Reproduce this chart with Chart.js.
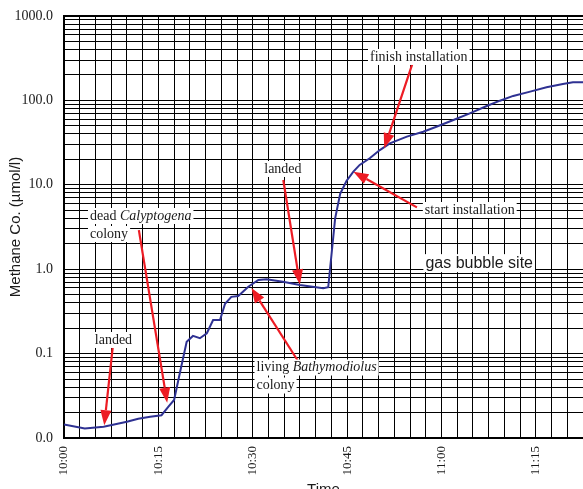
<!DOCTYPE html>
<html>
<head>
<meta charset="utf-8">
<script src="https://cdn.jsdelivr.net/npm/chart.js@4/dist/chart.umd.min.js"></script>
<style>
  html, body { margin: 0; padding: 0; background: #fff; overflow: hidden; }
</style>
</head>
<body>
<canvas id="chart" width="583" height="489"></canvas>
<script>
// Methane concentration (µmol/l) against minutes after 10:00
const minutesAfter10 = [0, 3.3, 6.3, 10.0, 11.8, 13.7, 15.5, 16.6, 17.5, 18.4, 19.5, 20.5, 21.6, 22.7,
  23.7, 24.8, 25.6, 26.6, 27.7, 29.3, 30.9, 32.2, 34.8, 37.5, 41.2, 42.0, 43.1, 43.9, 44.9, 46.0,
  47.0, 48.6, 50.2, 51.8, 54.5, 57.1, 59.2, 61.9, 64.5, 67.2, 69.3, 71.4, 74.1, 76.7, 79.3, 80.9, 82.5];
const methane = [0.0145, 0.0130, 0.0136, 0.0156, 0.0169, 0.0179, 0.0186, 0.0235, 0.0282, 0.058, 0.138, 0.162, 0.152, 0.174,
  0.25, 0.25, 0.39, 0.47, 0.48, 0.62, 0.745, 0.76, 0.71, 0.65, 0.594, 0.611, 4.0, 7.8, 11.1, 14.3,
  17.2, 20.6, 25.8, 31.0, 37.2, 42.6, 48.8, 58.6, 70.3, 85.9, 99.2, 113, 127, 143, 156, 164, 164];

// Axis labels
const timeLabels = ['10:00', '10:15', '10:30', '10:45', '11:00', '11:15'];
const decades = [0.01, 0.1, 1, 10, 100, 1000];
const decadeLabels = ['0.0', '0.1', '1.0', '10.0', '100.0', '1000.0'];

// Event callouts: text lines (segments), anchor, arrow tail and arrow tip in data units
const notes = [
  { lines: [[{ t: 'landed' }]], at: [7.86, 0.145], align: 'center', tail: [7.74, 0.118], tip: [6.4, 0.0142] },
  { lines: [[{ t: 'dead ' }, { t: 'Calyptogena', i: true }], [{ t: 'colony' }]], at: [4.13, 4.27], align: 'left',
    tail: [11.9, 2.9], tip: [16.4, 0.0262] },
  { lines: [[{ t: 'living ' }, { t: 'Bathymodiolus', i: true }], [{ t: 'colony' }]], at: [30.6, 0.0684], align: 'left',
    tail: [37.2, 0.0817], tip: [29.8, 0.60] },
  { lines: [[{ t: 'landed' }]], at: [34.8, 15.4], align: 'center', tail: [34.86, 11.4], tip: [37.5, 0.66] },
  { lines: [[{ t: 'finish installation' }]], at: [56.4, 327], align: 'center', tail: [55.4, 274], tip: [50.9, 27.1] },
  { lines: [[{ t: 'start installation' }]], at: [64.5, 5.03], align: 'center', tail: [56.1, 5.4], tip: [46.0, 14.3] },
  { lines: [[{ t: 'gas bubble site' }]], at: [66.0, 1.18], align: 'center', sans: true }
];

const SERIF = '"Liberation Serif", "Times New Roman", serif';
const SANS = '"Liberation Sans", Arial, sans-serif';

function drawArrow(ctx, x0, y0, x1, y1) {
  const ang = Math.atan2(y1 - y0, x1 - x0);
  const len = 15, half = 5.5;
  const bx = x1 - len * Math.cos(ang), by = y1 - len * Math.sin(ang);
  ctx.strokeStyle = '#ed1c24';
  ctx.fillStyle = '#ed1c24';
  ctx.lineWidth = 2.2;
  ctx.beginPath();
  ctx.moveTo(x0, y0);
  ctx.lineTo(bx, by);
  ctx.stroke();
  ctx.beginPath();
  ctx.moveTo(x1, y1);
  ctx.lineTo(bx + half * Math.sin(ang), by - half * Math.cos(ang));
  ctx.lineTo(bx - half * Math.sin(ang), by + half * Math.cos(ang));
  ctx.closePath();
  ctx.fill();
}

function drawNote(ctx, n, px, py) {
  const size = n.sans ? 16 : 14;
  const family = n.sans ? SANS : SERIF;
  const gap = 18;
  n.lines.forEach((segs, li) => {
    const cy = py + li * gap;
    let w = 0;
    const widths = segs.map(s => {
      ctx.font = (s.i ? 'italic ' : '') + size + 'px ' + family;
      const m = ctx.measureText(s.t).width;
      w += m;
      return m;
    });
    let x = n.align === 'center' ? px - w / 2 : px;
    ctx.fillStyle = '#ffffff';
    ctx.fillRect(x - 2, cy - size / 2 - 1, w + 4, size + 2);
    ctx.fillStyle = '#1a1a1a';
    ctx.textBaseline = 'middle';
    ctx.textAlign = 'left';
    segs.forEach((s, k) => {
      ctx.font = (s.i ? 'italic ' : '') + size + 'px ' + family;
      ctx.fillText(s.t, x, cy);
      x += widths[k];
    });
  });
}

const callouts = {
  id: 'callouts',
  afterDatasetsDraw(chart) {
    const { ctx, scales: { x, y } } = chart;
    ctx.save();
    notes.forEach(n => {
      if (!n.tip) return;
      drawArrow(ctx, x.getPixelForValue(n.tail[0]), y.getPixelForValue(n.tail[1]),
        x.getPixelForValue(n.tip[0]), y.getPixelForValue(n.tip[1]));
    });
    notes.forEach(n => drawNote(ctx, n, x.getPixelForValue(n.at[0]), y.getPixelForValue(n.at[1])));
    ctx.restore();
  }
};

const points = minutesAfter10.map((m, i) => ({ x: m, y: methane[i] }));

new Chart(document.getElementById('chart'), {
  type: 'line',
  data: {
    datasets: [{
      data: points,
      borderColor: '#2e3192',
      borderWidth: 2,
      pointRadius: 0,
      tension: 0,
      fill: false
    }]
  },
  options: {
    responsive: false,
    animation: false,
    layout: { padding: { top: 16, right: 0, bottom: 0, left: 0 } },
    plugins: { legend: { display: false }, tooltip: { enabled: false } },
    scales: {
      x: {
        type: 'linear',
        min: 0,
        max: 82.5,
        afterBuildTicks: scale => {
          const ticks = [];
          for (let v = 0; v <= 82.5 + 1e-9; v += 2.5) ticks.push({ value: v });
          scale.ticks = ticks;
        },
        afterFit: scale => {
          scale.height = 51;
          scale.paddingLeft = 0;
          scale.paddingRight = 0;
        },
        ticks: {
          autoSkip: false,
          minRotation: 90,
          maxRotation: 90,
          padding: 8,
          color: '#1a1a1a',
          font: { family: SERIF, size: 13 },
          callback: v => (Math.abs(v % 15) < 1e-6 ? timeLabels[Math.round(v / 15)] : '')
        },
        grid: { color: '#000', lineWidth: 1, drawTicks: false },
        border: { color: '#000', width: 2 },
        title: {
          display: true,
          text: 'Time',
          color: '#1a1a1a',
          font: { family: SANS, size: 15 },
          padding: { top: 0, bottom: -10 }
        }
      },
      y: {
        type: 'logarithmic',
        min: 0.01,
        max: 1000,
        afterBuildTicks: scale => {
          const ticks = [];
          decades.forEach((d, i) => {
            if (i === decades.length - 1) { ticks.push({ value: d }); return; }
            for (let k = 1; k <= 9; k++) ticks.push({ value: +(d * k).toPrecision(6) });
          });
          scale.ticks = ticks;
        },
        afterFit: scale => {
          scale.width = 64;
          scale.paddingTop = 0;
          scale.paddingBottom = 0;
        },
        ticks: {
          autoSkip: false,
          padding: 11,
          color: '#1a1a1a',
          font: { family: SERIF, size: 14 },
          callback: v => {
            const i = decades.findIndex(d => Math.abs(d - v) / d < 1e-6);
            return i >= 0 ? decadeLabels[i] : '';
          }
        },
        grid: {
          color: '#000',
          lineWidth: c => (c.tick && c.tick.value === 1000 ? 2 : 1),
          drawTicks: false
        },
        border: { color: '#000', width: 2 },
        title: {
          display: true,
          text: 'Methane Co. (µmol/l)',
          color: '#1a1a1a',
          font: { family: SANS, size: 15 },
          padding: { top: 7, bottom: 0 }
        }
      }
    }
  },
  plugins: [callouts]
});
</script>
</body>
</html>
